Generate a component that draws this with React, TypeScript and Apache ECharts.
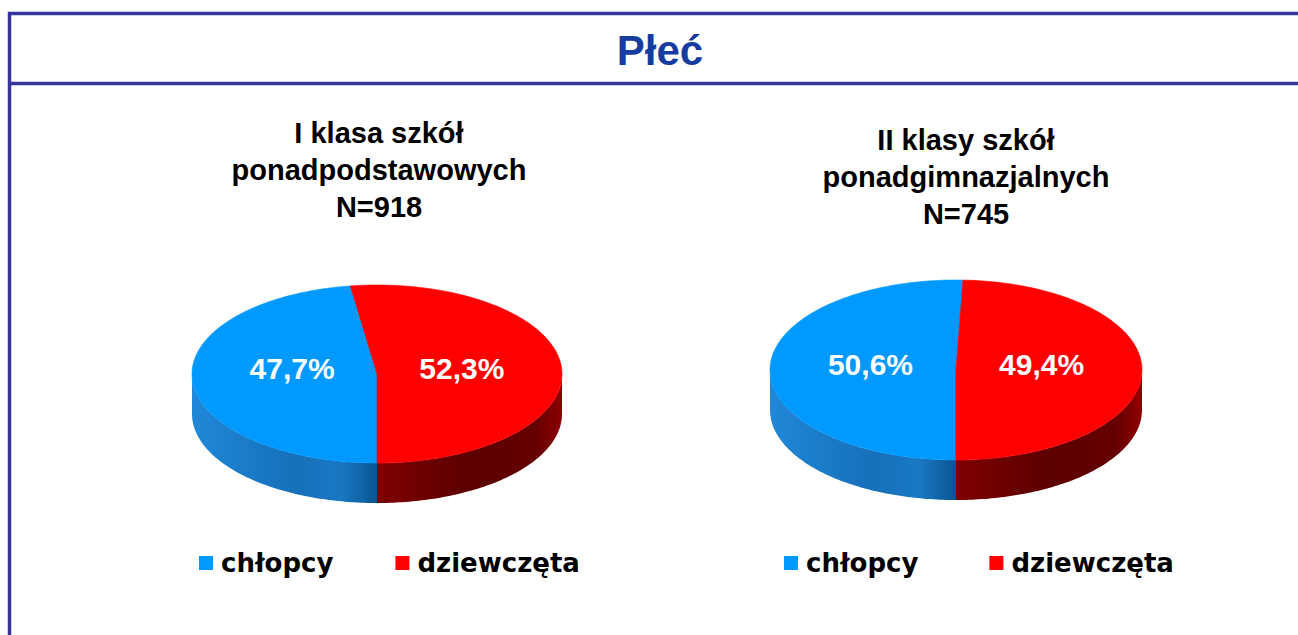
import React, { useEffect, useRef } from "react";
import * as echarts from "echarts";

// ---- data ----
const mainTitle = "Płeć";
const groupTitles = ["I klasa szkół\nponadpodstawowych", "II klasy szkół\nponadgimnazjalnych"];
const sampleSizes = [918, 745];
const categories = ["chłopcy", "dziewczęta"];
const chlopcy = [47.7, 50.6];
const dziewczeta = [52.3, 49.4];

// ---- layout / style ----
const PIES = [
  { cx: 377, cy: 374, rx: 185, ry: 89, depth: 40, titleX: 379, titleY: 170, legendLeft: 199, legendGap: 62 },
  { cx: 956, cy: 370, rx: 186, ry: 90, depth: 40, titleX: 966, titleY: 177, legendLeft: 784, legendGap: 71 },
];
const TOP_COLORS = ["#0099ff", "#ff0000"];
const WALL_STOPS = [
  [
    { offset: 0, color: "#2088d8" },
    { offset: 0.55, color: "#1670ba" },
    { offset: 0.8, color: "#1a78c2" },
    { offset: 1, color: "#0a5592" },
  ],
  [
    { offset: 0, color: "#7e0000" },
    { offset: 0.5, color: "#5c0000" },
    { offset: 0.85, color: "#640000" },
    { offset: 1, color: "#8e0000" },
  ],
];
const FRAME = "#36369a";

function pt(L: any, deg: number, f = 1, dy = 0): number[] {
  const r = (deg * Math.PI) / 180;
  return [L.cx + L.rx * f * Math.sin(r), L.cy - L.ry * f * Math.cos(r) + dy];
}

function makeRender(seriesIdx: number) {
  return (params: any, api: any) => {
    const i = params.dataIndex;
    const L = PIES[i];
    const v = api.value(0) as number;
    const total = chlopcy[i] + dziewczeta[i];
    const span = (v / total) * 360;
    let start: number, end: number;
    if (seriesIdx === 0) {
      start = 180;
      end = 180 + span;
    } else {
      start = 180 - span;
      end = 180;
    }
    const children: any[] = [];
    // side wall (front half only: 90..270 deg clockwise from top)
    const a0 = Math.max(start, 90);
    const a1 = Math.min(end, 270);
    if (a1 > a0) {
      const n = Math.max(2, Math.ceil(a1 - a0));
      const upper: number[][] = [];
      const lower: number[][] = [];
      for (let k = 0; k <= n; k++) {
        const a = a0 + ((a1 - a0) * k) / n;
        upper.push(pt(L, a));
        lower.push(pt(L, a, 1, L.depth));
      }
      children.push({
        type: "polygon",
        shape: { points: upper.concat(lower.reverse()) },
        style: {
          fill: new echarts.graphic.LinearGradient(0, 0, 1, 0, WALL_STOPS[seriesIdx]),
        },
      });
    }
    // top face
    const top: number[][] = [[L.cx, L.cy]];
    const steps = Math.max(2, Math.ceil(end - start));
    for (let k = 0; k <= steps; k++) {
      top.push(pt(L, start + ((end - start) * k) / steps));
    }
    children.push({
      type: "polygon",
      shape: { points: top },
      style: { fill: TOP_COLORS[seriesIdx], stroke: TOP_COLORS[seriesIdx], lineWidth: 0.6 },
    });
    // label
    const mid = (start + end) / 2;
    const lp = pt(L, mid, 0.46);
    children.push({
      type: "text",
      x: lp[0],
      y: L.cy - 6,
      style: {
        text: v.toFixed(1).replace(".", ",") + "%",
        fill: "#ffffff",
        fontSize: 30,
        fontWeight: "bold",
        fontFamily: '"Liberation Sans", Arial, sans-serif',
        align: "center",
        verticalAlign: "middle",
      },
    });
    return { type: "group", children };
  };
}

export default function App() {
  const ref = useRef<HTMLDivElement>(null);
  useEffect(() => {
    if (!ref.current) return;
    const chart = echarts.init(ref.current, null, { renderer: "svg" });
    const graphics: any[] = [
      {
        type: "rect",
        shape: { x: 9.5, y: 13.5, width: 1400, height: 700 },
        style: { fill: "none", stroke: FRAME, lineWidth: 3.5 },
        silent: true,
      },
      {
        type: "line",
        shape: { x1: 9.5, y1: 83.5, x2: 1300, y2: 83.5 },
        style: { stroke: FRAME, lineWidth: 3.5 },
        silent: true,
      },
      {
        type: "text",
        x: 660,
        y: 50,
        style: {
          text: mainTitle,
          fill: "#173c9f",
          fontSize: 42,
          fontWeight: "bold",
          fontFamily: '"Liberation Sans", Arial, sans-serif',
          align: "center",
          verticalAlign: "middle",
        },
      },
    ];
    PIES.forEach((L, i) => {
      graphics.push({
        type: "text",
        x: L.titleX,
        y: L.titleY,
        style: {
          text: groupTitles[i] + "\nN=" + sampleSizes[i],
          fill: "#000000",
          fontSize: 29,
          lineHeight: 37,
          fontWeight: "bold",
          fontFamily: '"Liberation Sans", Arial, sans-serif',
          align: "center",
          verticalAlign: "middle",
        },
      });
    });
    const legendBase = {
      data: categories,
      top: 550,
      padding: 0,
      itemWidth: 14,
      itemHeight: 14,
      icon: "rect",
      selectedMode: false,
      textStyle: {
        fontSize: 26,
        fontWeight: "bold",
        fontFamily: '"DejaVu Sans", Verdana, sans-serif',
        color: "#000000",
        padding: [0, 0, 0, 3],
      },
    };
    chart.setOption({
      animation: false,
      backgroundColor: "#ffffff",
      legend: PIES.map((L) => ({ ...legendBase, left: L.legendLeft, itemGap: L.legendGap })),
      graphic: graphics,
      series: [
        {
          type: "custom",
          name: categories[0],
          coordinateSystem: "none",
          itemStyle: { color: TOP_COLORS[0] },
          renderItem: makeRender(0),
          data: chlopcy.map((v) => [v]),
        },
        {
          type: "custom",
          name: categories[1],
          coordinateSystem: "none",
          itemStyle: { color: TOP_COLORS[1] },
          renderItem: makeRender(1),
          data: dziewczeta.map((v) => [v]),
        },
      ],
    });
    return () => chart.dispose();
  }, []);
  return (
    <div
      ref={ref}
      style={{ position: "fixed", left: 0, top: 0, width: 1298, height: 635, background: "#fff" }}
    />
  );
}
